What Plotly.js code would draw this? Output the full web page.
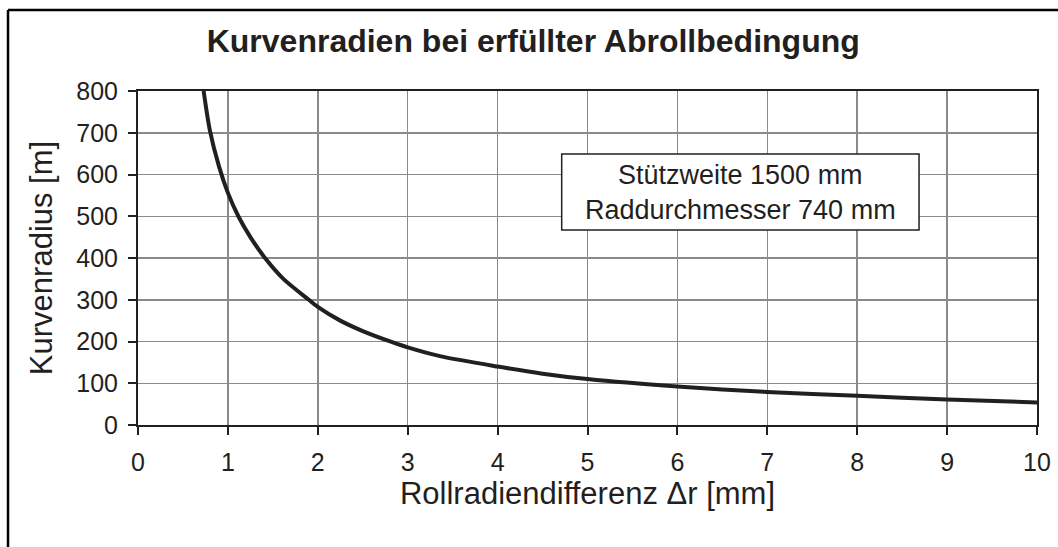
<!DOCTYPE html>
<html>
<head>
<meta charset="utf-8">
<script src="https://cdn.plot.ly/plotly-3.0.1.min.js"></script>
<style>html,body{margin:0;padding:0;background:#fff;}#chart{width:1058px;height:547px;}</style>
</head>
<body>
<div id="chart"></div>
<script>
const rollDiff = [0.73, 0.80, 0.90, 1.0, 1.116, 1.25, 1.413, 1.617, 1.9, 2.0, 2.25, 2.5, 2.82, 3.0, 3.36, 4.0, 4.5, 5.0, 6.0, 7.0, 8.0, 9.0, 10.0];
const radius   = [800, 705, 620, 556, 500, 450, 400, 350, 300, 283, 250, 225, 199, 186, 165, 140, 123, 110, 92, 79, 70, 61, 54];
const xTicks = [0,1,2,3,4,5,6,7,8,9,10];
const yTicks = [0,100,200,300,400,500,600,700,800];
const titleText = 'Kurvenradien bei erfüllter Abrollbedingung';
const xTitle = 'Rollradiendifferenz Δr [mm]';
const yTitle = 'Kurvenradius [m]';
const infoLines = ['Stützweite 1500 mm', 'Raddurchmesser 740 mm'];

const FONT = 'Liberation Sans, Arial, Helvetica, sans-serif';
const INK = '#231f20';

const trace = {
  x: rollDiff, y: radius, type: 'scatter', mode: 'lines',
  line: {color: INK, width: 4, shape: 'spline', smoothing: 0.8},
  hoverinfo: 'skip', cliponaxis: true
};

const axisCommon = {
  showline: true, linecolor: INK, linewidth: 2, mirror: true,
  showgrid: true, gridcolor: '#8a8a8a', gridwidth: 1.5,
  zeroline: false, ticks: 'outside', ticklen: 8, tickwidth: 2, tickcolor: INK,
  tickfont: {family: FONT, size: 25, color: INK}, fixedrange: true
};

const layout = {
  width: 1058, height: 547,
  margin: {l: 138, r: 21, t: 91, b: 122},
  paper_bgcolor: '#fff', plot_bgcolor: '#fff',
  showlegend: false,
  title: {text: '<b>' + titleText + '</b>', font: {family: FONT, size: 32, color: INK},
          x: 0.504, xref: 'container', xanchor: 'center', y: 0.926, yref: 'container', yanchor: 'middle'},
  xaxis: Object.assign({}, axisCommon, {
    range: [0, 10], tickvals: xTicks, ticktext: xTicks.map(String), ticklabelstandoff: 6,
    title: {text: xTitle, font: {family: FONT, size: 31, color: INK}, standoff: 4}
  }),
  yaxis: Object.assign({}, axisCommon, {
    range: [0, 800], tickvals: yTicks, ticktext: yTicks.map(String), ticklabelstandoff: 5,
    title: {text: yTitle, font: {family: FONT, size: 31, color: INK}, standoff: 14}
  }),
  shapes: [
    {type: 'line', xref: 'paper', yref: 'paper', x0: -0.1446, x1: 1.1, y0: 1.2425, y1: 1.2425, line: {color: '#000', width: 2.5}},
    {type: 'line', xref: 'paper', yref: 'paper', x0: -0.1446, x1: -0.1446, y0: 1.2425, y1: -0.5, line: {color: '#000', width: 2.5}},
    {type: 'rect', xref: 'paper', yref: 'paper', x0: 0.4713, x1: 0.8688, y0: 0.5838, y1: 0.8114,
     line: {color: INK, width: 1.5}, fillcolor: '#fff', layer: 'above'}
  ],
  annotations: [
    {xref: 'paper', yref: 'paper', x: 0.6700, y: 0.6976, xanchor: 'center', yanchor: 'middle',
     text: infoLines.join('<br>'), showarrow: false, align: 'center',
     font: {family: FONT, size: 27, color: INK}}
  ]
};

Plotly.newPlot('chart', [trace], layout, {staticPlot: true, displayModeBar: false});
</script>
</body>
</html>
